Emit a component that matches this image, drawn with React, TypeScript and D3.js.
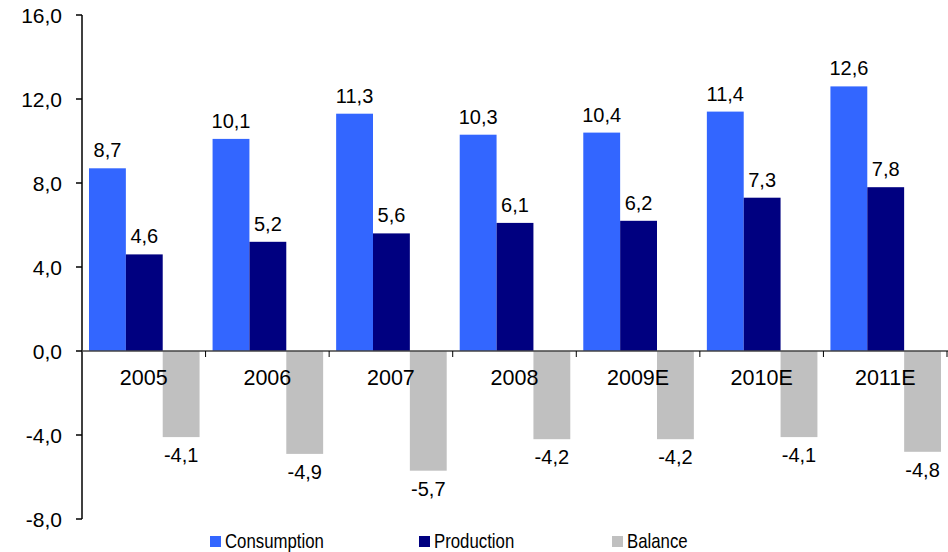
import React from "react";
import * as d3 from "d3";

const years = ["2005", "2006", "2007", "2008", "2009E", "2010E", "2011E"];
const consumption = [8.7, 10.1, 11.3, 10.3, 10.4, 11.4, 12.6];
const production = [4.6, 5.2, 5.6, 6.1, 6.2, 7.3, 7.8];
const balance = [-4.1, -4.9, -5.7, -4.2, -4.2, -4.1, -4.8];
const yTicks = [-8, -4, 0, 4, 8, 12, 16];

const seriesNames = ["Consumption", "Production", "Balance"];
const colors = ["#3366FF", "#000080", "#C0C0C0"];

const W = 948;
const H = 552;
const left = 82;
const right = 947;
const top = 15;
const bottom = 519;

const fmt = (v: number) => v.toFixed(1).replace(".", ",");

const App: React.FC = () => {
  const series = [consumption, production, balance];
  const x = d3.scaleBand<string>().domain(years).range([left, right]).padding(0);
  const inner = d3
    .scaleBand<number>()
    .domain([0, 1, 2])
    .range([7, x.bandwidth() - 6])
    .padding(0);
  const y = d3.scaleLinear().domain([-8, 16]).range([bottom, top]);
  const font = "'Liberation Sans', Arial, sans-serif";

  const legendX = [210, 419, 612];

  return (
    <div style={{ position: "absolute", left: 0, top: 0 }}>
      <svg width={W} height={H} style={{ display: "block", background: "#fff" }}>
        {/* bars */}
        {years.map((yr, i) => (
          <g key={yr} transform={`translate(${x(yr)},0)`}>
            {series.map((s, k) => {
              const v = s[i];
              const y0 = y(Math.max(0, v));
              const h = Math.abs(y(v) - y(0));
              const cx = inner(k)! + inner.bandwidth() / 2;
              return (
                <g key={k}>
                  <rect
                    x={inner(k)}
                    y={y0}
                    width={inner.bandwidth()}
                    height={h}
                    fill={colors[k]}
                  />
                  <text
                    x={cx}
                    y={v >= 0 ? y(v) - 11 : y(v) + 25}
                    textAnchor="middle"
                    fontFamily={font}
                    fontSize={20}
                    fill="#000"
                  >
                    {fmt(v)}
                  </text>
                </g>
              );
            })}
          </g>
        ))}

        {/* y axis */}
        <line x1={left} x2={left} y1={top} y2={bottom} stroke="#000" strokeWidth={1.5} />
        {yTicks.map((t) => (
          <g key={t}>
            <line x1={left - 6} x2={left} y1={y(t)} y2={y(t)} stroke="#000" strokeWidth={1.5} />
            <text
              x={left - 20}
              y={y(t)}
              dy="0.36em"
              textAnchor="end"
              fontFamily={font}
              fontSize={21}
              fill="#000"
            >
              {fmt(t)}
            </text>
          </g>
        ))}

        {/* zero line + category ticks */}
        <line x1={left} x2={W} y1={y(0)} y2={y(0)} stroke="#444" strokeWidth={1.5} />
        {years.map((yr) => (
          <line
            key={yr}
            x1={x(yr)! + x.bandwidth()}
            x2={x(yr)! + x.bandwidth()}
            y1={y(0)}
            y2={y(0) + 6}
            stroke="#000"
            strokeWidth={1}
          />
        ))}
        {years.map((yr) => (
          <text
            key={yr}
            x={x(yr)! + x.bandwidth() / 2}
            y={y(0) + 34}
            textAnchor="middle"
            fontFamily={font}
            fontSize={21.5}
            fill="#000"
          >
            {yr}
          </text>
        ))}

        {/* legend */}
        {seriesNames.map((n, k) => (
          <g key={n}>
            <rect x={legendX[k]} y={536} width={11} height={11} fill={colors[k]} />
            <text
              transform={`translate(${legendX[k] + 15},548) scale(0.84,1)`}
              fontFamily={font}
              fontSize={20}
              fill="#000"
            >
              {n}
            </text>
          </g>
        ))}
      </svg>
    </div>
  );
};

export default App;
